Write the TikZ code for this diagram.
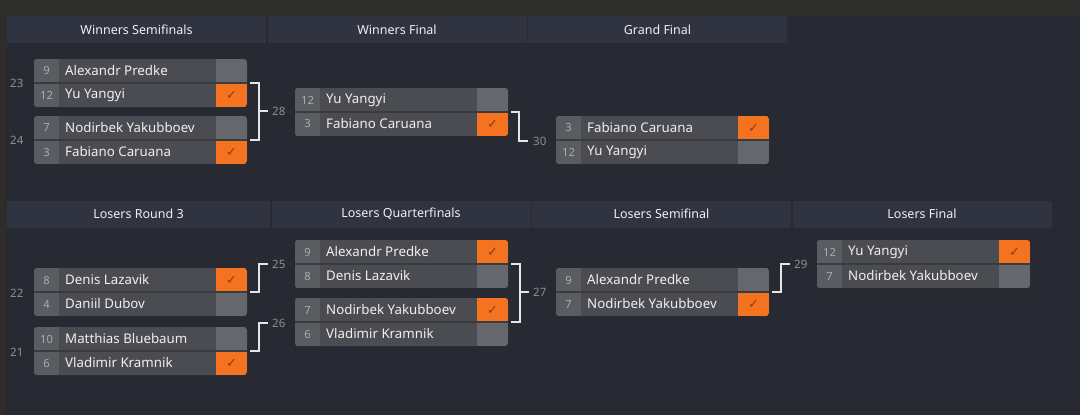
\documentclass[tikz,border=0pt]{standalone}
\usepackage{fontspec}
\setmainfont{Noto Sans}
\newfontfamily\symf{DejaVu Sans}
\definecolor{bgc}{HTML}{282A33}
\definecolor{topc}{HTML}{2E2D2A}
\definecolor{hdrc}{HTML}{2F3440}
\definecolor{seedc}{HTML}{5B5C61}
\definecolor{namec}{HTML}{4B4C51}
\definecolor{emptyc}{HTML}{66676C}
\definecolor{winc}{HTML}{F47220}
\definecolor{tickc}{HTML}{8E3E14}
\definecolor{sepc}{HTML}{3A3B40}
\definecolor{txtc}{HTML}{F0F0F0}
\definecolor{seedtxt}{HTML}{ABACB0}
\definecolor{lblc}{HTML}{8E9097}
\definecolor{connc}{HTML}{E6E6E6}
\tikzset{
  hdr/.style={fill=hdrc, minimum height=27pt, inner sep=0pt, text=txtc, font=\fontsize{12.5}{14}\selectfont},
  matchbox/.style={minimum width=213pt, minimum height=48pt, inner sep=0pt, rounded corners=3pt, fill=namec},
  pname/.style={anchor=west, inner sep=0pt, text=txtc, font=\fontsize{13.3}{15}\selectfont},
  pseed/.style={inner sep=0pt, text=seedtxt, font=\fontsize{11.2}{12}\selectfont},
  ptick/.style={inner sep=0pt, text=tickc, font=\symf\fontsize{13}{14}\selectfont},
  lbl/.style={anchor=west, inner sep=0pt, text=lblc, font=\fontsize{11.5}{13}\selectfont},
  conn/.style={draw=connc, line width=2pt},
}
\newcommand\tickcell[4]{% id, x, y, win
  \ifnum#4=1
    \fill[winc] (#2+182,#3) rectangle ++(31,24);
    \node[ptick] (#1) at (#2+197.5,#3+12) {✓};
  \else
    \fill[emptyc] (#2+182,#3) rectangle ++(31,24);
  \fi}
\newcommand\mtch[9]{% id, x, y, s1, n1, w1, s2, n2, w2
  \node[matchbox] (#1) at (#2+106.5,#3+24) {};
  \begin{scope}
    \clip[rounded corners=3pt] (#2,#3) rectangle ++(213,48);
    \fill[seedc] (#2,#3) rectangle ++(25,48);
    \tickcell{#1ta}{#2}{#3}{#6}
    \tickcell{#1tb}{#2}{#3+24}{#9}
    \draw[sepc, line width=1.5pt] (#2,#3+24) -- ++(213,0);
  \end{scope}
  \node[pseed] (#1sa) at (#2+12.5,#3+12) {#4};
  \node[pseed] (#1sb) at (#2+12.5,#3+36) {#7};
  \node[pname] (#1na) at (#2+31,#3+12) {#5};
  \node[pname] (#1nb) at (#2+31,#3+36) {#8};
}
\begin{document}
\begin{tikzpicture}[x=1pt,y=-1pt]
\useasboundingbox (0,0) rectangle (1080,415);
\fill[bgc] (0,0) rectangle (1080,415);
\fill[topc] (0,0) rectangle (1080,15);
\fill[topc] (0,15) rectangle (6,415);
% headers
\node[hdr, minimum width=259pt] (h1) at (136.5,29.5) {Winners Semifinals};
\node[hdr, minimum width=259pt] (h2) at (397,29.5) {Winners Final};
\node[hdr, minimum width=259pt] (h3) at (657.5,29.5) {Grand Final};
\node[hdr, minimum width=263pt] (h4) at (138.5,214) {Losers Round 3};
\node[hdr, minimum width=259pt] (h5) at (401,214) {Losers Quarterfinals};
\node[hdr, minimum width=259pt] (h6) at (661.5,214) {Losers Semifinal};
\node[hdr, minimum width=259pt] (h7) at (922,214) {Losers Final};
% matches
\mtch{m23}{34}{59}{9}{Alexandr Predke}{0}{12}{Yu Yangyi}{1}
\mtch{m24}{34}{116}{7}{Nodirbek Yakubboev}{0}{3}{Fabiano Caruana}{1}
\mtch{m28}{295}{88}{12}{Yu Yangyi}{0}{3}{Fabiano Caruana}{1}
\mtch{m30}{556}{116}{3}{Fabiano Caruana}{1}{12}{Yu Yangyi}{0}
\mtch{m22}{34}{268}{8}{Denis Lazavik}{1}{4}{Daniil Dubov}{0}
\mtch{m21}{34}{327}{10}{Matthias Bluebaum}{0}{6}{Vladimir Kramnik}{1}
\mtch{m25}{295}{240}{9}{Alexandr Predke}{1}{8}{Denis Lazavik}{0}
\mtch{m26}{295}{298}{7}{Nodirbek Yakubboev}{1}{6}{Vladimir Kramnik}{0}
\mtch{m27}{556}{268}{9}{Alexandr Predke}{0}{7}{Nodirbek Yakubboev}{1}
\mtch{m29}{817}{240}{12}{Yu Yangyi}{1}{7}{Nodirbek Yakubboev}{0}
% match labels
\node[lbl] (l23) at (10,83) {23};
\node[lbl] (l24) at (10,140) {24};
\node[lbl] (l22) at (10,293) {22};
\node[lbl] (l21) at (10,352) {21};
\node[lbl] (l28) at (272,111) {28};
\node[lbl] (l30) at (533,141) {30};
\node[lbl] (l25) at (272,264) {25};
\node[lbl] (l26) at (272,323) {26};
\node[lbl] (l27) at (533,292) {27};
\node[lbl] (l29) at (794,264) {29};
% connectors
\draw[conn] ([xshift=3pt]m23.east) -| ([xshift=12pt]m24.east) -- ([xshift=3pt]m24.east);
\draw[conn] ([xshift=12pt]m23.east |- l28) -- ([xshift=-4pt]l28.west);
\draw[conn] ([xshift=3pt]m28.east) -| ([xshift=-37pt]m30.west |- l30) -- ([xshift=-5pt]l30.west);
\draw[conn] ([xshift=3pt]m22.east) -| ([xshift=-36pt]m25.west |- l25) -- ([xshift=-4pt]l25.west);
\draw[conn] ([xshift=3pt]m21.east) -| ([xshift=-36pt]m26.west |- l26) -- ([xshift=-4pt]l26.west);
\draw[conn] ([xshift=3pt]m25.east) -| ([xshift=12pt]m26.east) -- ([xshift=3pt]m26.east);
\draw[conn] ([xshift=12pt]m25.east |- l27) -- ([xshift=-4pt]l27.west);
\draw[conn] ([xshift=3pt]m27.east) -| ([xshift=-36pt]m29.west |- l29) -- ([xshift=-4pt]l29.west);
\end{tikzpicture}
\end{document}
